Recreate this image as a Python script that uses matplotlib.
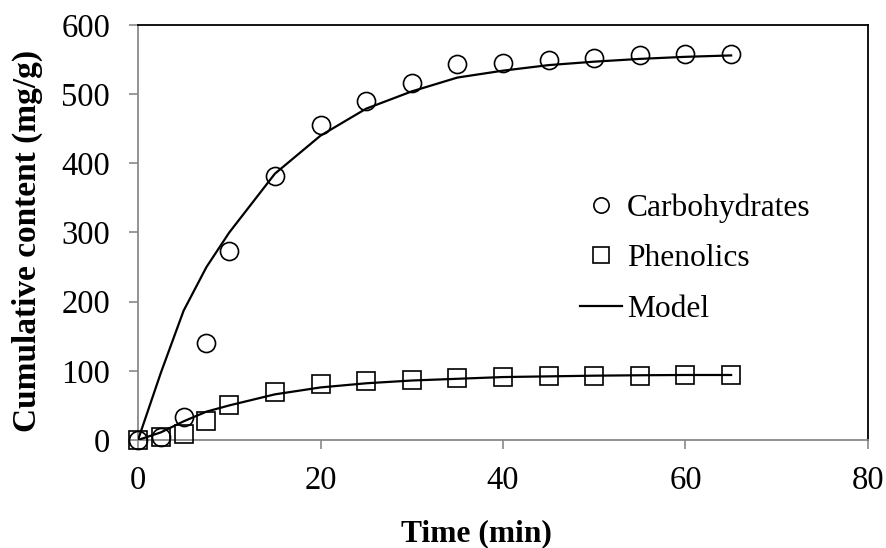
import matplotlib.pyplot as plt
from matplotlib.lines import Line2D

plt.rcParams["font.family"] = ["Liberation Serif", "DejaVu Serif"]

# time points (min)
time = [0, 2.5, 5, 7.5, 10, 15, 20, 25, 30, 35, 40, 45, 50, 55, 60, 65]

# measured cumulative content (mg/g)
carbohydrates = [0, 4, 33, 140, 273, 382, 456, 490, 516, 543, 545, 550, 552, 556, 558, 558]
phenolics = [0, 4, 9, 28, 51, 70, 81, 85, 87, 90, 91, 92, 93, 93, 94, 94]

# model values at the same times
model_carbohydrates = [0, 97, 187, 250, 300, 385, 440, 479, 504, 524, 534, 542, 547, 551, 554, 556]
model_phenolics = [0, 11, 27, 41, 50, 66, 76, 82, 86, 88.5, 91, 92, 93, 93.6, 94, 94]

x_ticks = [0, 20, 40, 60, 80]
y_ticks = [0, 100, 200, 300, 400, 500, 600]

fig = plt.figure(figsize=(8.87, 5.48), dpi=100)
ax = fig.add_axes([138 / 887, 1 - 440 / 548, 730 / 887, 415 / 548])

ax.plot(time, model_carbohydrates, color="black", linewidth=1.6, zorder=3)
ax.plot(time, model_phenolics, color="black", linewidth=1.6, zorder=3)
ax.plot(time, carbohydrates, linestyle="none", marker="o", markersize=13,
        markerfacecolor="none", markeredgecolor="black", markeredgewidth=1.2,
        clip_on=False, zorder=4)
ax.plot(time, phenolics, linestyle="none", marker="s", markersize=13,
        markerfacecolor="none", markeredgecolor="black", markeredgewidth=1.2,
        clip_on=False, zorder=4)

ax.set_xlim(0, 80)
ax.set_ylim(0, 600)
ax.set_xticks(x_ticks)
ax.set_yticks(y_ticks)
ax.tick_params(axis="both", direction="out", length=6.5, width=1.2, color="#898989",
               labelsize=23.5)
ax.tick_params(axis="y", pad=13.5)
ax.tick_params(axis="x", pad=12)

for side in ["left", "bottom"]:
    ax.spines[side].set_color("#898989")
    ax.spines[side].set_linewidth(1.3)
for side in ["top", "right"]:
    ax.spines[side].set_color("black")
    ax.spines[side].set_linewidth(1.3)

ax.set_xlabel("Time (min)", fontsize=22.7, fontweight="bold")
ax.xaxis.set_label_coords(0.464, -0.19)
ax.set_ylabel("Cumulative content (mg/g)", fontsize=24, fontweight="bold")
ax.yaxis.set_label_coords(-0.130, 0.48)

handles = [
    Line2D([], [], linestyle="none", marker="o", markersize=11, markerfacecolor="none",
           markeredgecolor="black", markeredgewidth=1.2),
    Line2D([], [], linestyle="none", marker="s", markersize=11, markerfacecolor="none",
           markeredgecolor="black", markeredgewidth=1.2),
    Line2D([], [], color="black", linewidth=1.6),
]
ax.legend(handles, ["Carbohydrates", "Phenolics", "Model"], loc="upper left",
          bbox_to_anchor=(0.605, 0.595), frameon=False, fontsize=22.7, borderpad=0,
          handlelength=1.33, handletextpad=0.16, labelspacing=0.68, borderaxespad=0)

fig.savefig("out.png", dpi=100)
